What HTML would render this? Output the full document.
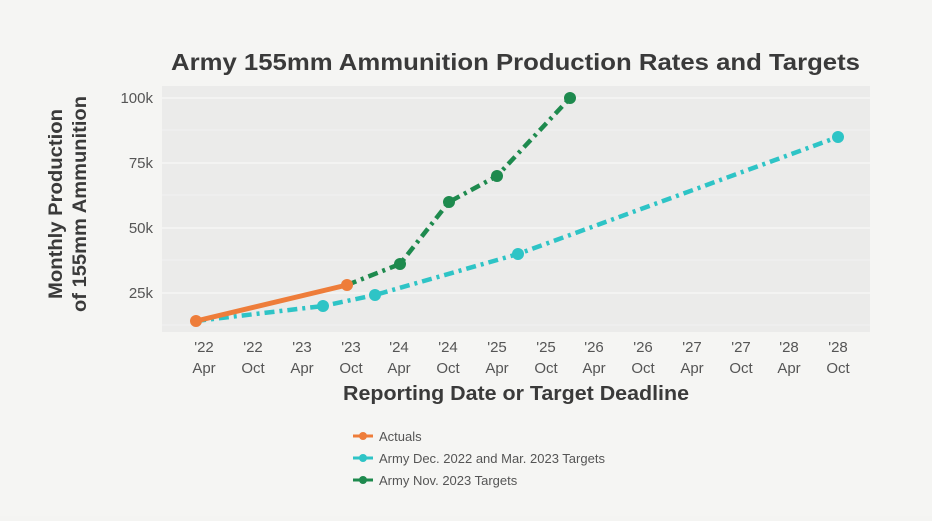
<!DOCTYPE html>
<html><head><style>
body{margin:0;background:#f4f4f2;width:932px;height:516px;overflow:hidden;font-family:"Liberation Sans",sans-serif}
</style></head><body>
<svg width="932" height="516" xmlns="http://www.w3.org/2000/svg" font-family="Liberation Sans, sans-serif">
<rect width="932" height="516" fill="#f5f5f3"/>
<text x="171" y="70" font-size="23" font-weight="bold" fill="#3a3a3a" textLength="689" lengthAdjust="spacingAndGlyphs">Army 155mm Ammunition Production Rates and Targets</text>
<rect x="162" y="86" width="708" height="246" fill="#ebebea"/>
<g stroke="#f8f8f8" stroke-width="1.2">
<line x1="162" x2="870" y1="98" y2="98"/><line x1="162" x2="870" y1="163" y2="163"/><line x1="162" x2="870" y1="228" y2="228"/><line x1="162" x2="870" y1="293" y2="293"/>
<line x1="162" x2="870" y1="130" y2="130" stroke-width="0.6"/><line x1="162" x2="870" y1="195" y2="195" stroke-width="0.6"/><line x1="162" x2="870" y1="260" y2="260" stroke-width="0.6"/><line x1="162" x2="870" y1="325" y2="325" stroke-width="0.6"/>
</g>
<g font-size="15" fill="#555" text-anchor="end">
<text x="153" y="103">100k</text><text x="153" y="168">75k</text><text x="153" y="233">50k</text><text x="153" y="298">25k</text>
</g>
<g transform="translate(62,204) rotate(-90)" font-size="19" font-weight="bold" fill="#3a3a3a">
<text x="-95" y="0" textLength="190" lengthAdjust="spacingAndGlyphs">Monthly Production</text><text x="-108" y="24" textLength="216" lengthAdjust="spacingAndGlyphs">of 155mm Ammunition</text>
</g>
<g font-size="15" fill="#555" text-anchor="middle">
<text x="204" y="352">'22</text><text x="204" y="373">Apr</text>
<text x="253" y="352">'22</text><text x="253" y="373">Oct</text>
<text x="302" y="352">'23</text><text x="302" y="373">Apr</text>
<text x="351" y="352">'23</text><text x="351" y="373">Oct</text>
<text x="399" y="352">'24</text><text x="399" y="373">Apr</text>
<text x="448" y="352">'24</text><text x="448" y="373">Oct</text>
<text x="497" y="352">'25</text><text x="497" y="373">Apr</text>
<text x="546" y="352">'25</text><text x="546" y="373">Oct</text>
<text x="594" y="352">'26</text><text x="594" y="373">Apr</text>
<text x="643" y="352">'26</text><text x="643" y="373">Oct</text>
<text x="692" y="352">'27</text><text x="692" y="373">Apr</text>
<text x="741" y="352">'27</text><text x="741" y="373">Oct</text>
<text x="789" y="352">'28</text><text x="789" y="373">Apr</text>
<text x="838" y="352">'28</text><text x="838" y="373">Oct</text>
</g>
<text x="343" y="400" font-size="20" font-weight="bold" fill="#3a3a3a" textLength="346" lengthAdjust="spacingAndGlyphs">Reporting Date or Target Deadline</text>
<polyline points="196,321 323,306 375,295 518,254 838,137" fill="none" stroke="#2ec4c6" stroke-width="4.5" stroke-dasharray="10,5,3,5"/>
<g fill="#2ec4c6"><circle cx="323" cy="306" r="6"/><circle cx="375" cy="295" r="6"/><circle cx="518" cy="254" r="6"/><circle cx="838" cy="137" r="6"/></g>
<polyline points="347,285 400,264 449,202 497,176 570,98" fill="none" stroke="#1e8a4e" stroke-width="4.5" stroke-dasharray="10,5,3,5"/>
<g fill="#1e8a4e"><circle cx="400" cy="264" r="6"/><circle cx="449" cy="202" r="6"/><circle cx="497" cy="176" r="6"/><circle cx="570" cy="98" r="6"/></g>
<polyline points="196,321 347,285" fill="none" stroke="#ee7d3a" stroke-width="5"/>
<g fill="#ee7d3a"><circle cx="196" cy="321" r="6"/><circle cx="347" cy="285" r="6"/></g>
<g font-size="13" fill="#555">
<line x1="353" x2="373" y1="436" y2="436" stroke="#ee7d3a" stroke-width="3"/><circle cx="363" cy="436" r="4" fill="#ee7d3a"/><text x="379" y="441">Actuals</text>
<line x1="353" x2="373" y1="458" y2="458" stroke="#2ec4c6" stroke-width="3"/><circle cx="363" cy="458" r="4" fill="#2ec4c6"/><text x="379" y="463">Army Dec. 2022 and Mar. 2023 Targets</text>
<line x1="353" x2="373" y1="480" y2="480" stroke="#1e8a4e" stroke-width="3"/><circle cx="363" cy="480" r="4" fill="#1e8a4e"/><text x="379" y="485">Army Nov. 2023 Targets</text>
</g>
</svg>
</body></html>
